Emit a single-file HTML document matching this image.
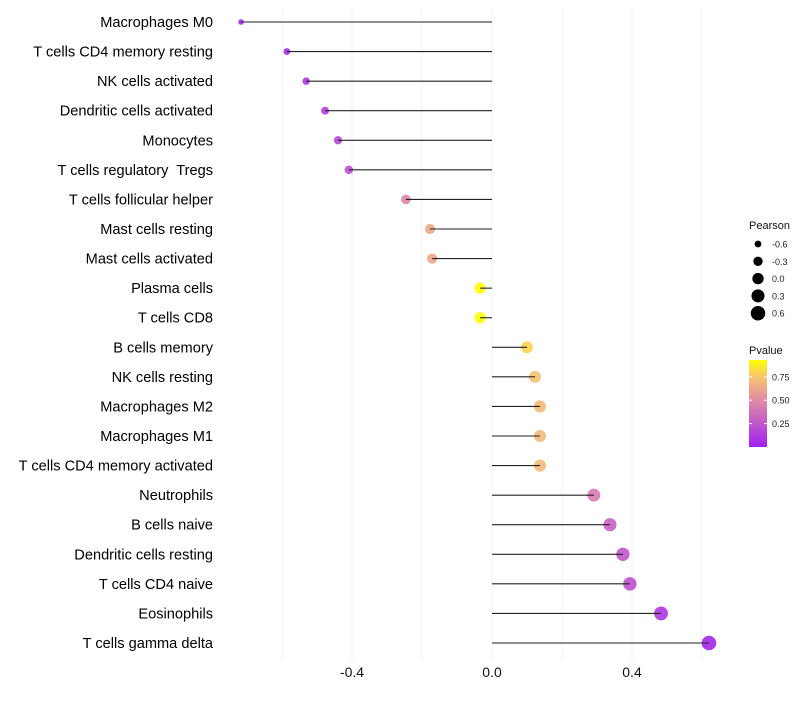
<!DOCTYPE html>
<html><head><meta charset="utf-8"><style>
body{margin:0;background:#fff;font-family:"Liberation Sans",sans-serif}
text{white-space:pre}
</style></head><body>
<svg id="c" width="800" height="700" xmlns="http://www.w3.org/2000/svg"></svg>
<script>
const categories=["Macrophages M0","T cells CD4 memory resting","NK cells activated","Dendritic cells activated","Monocytes","T cells regulatory  Tregs","T cells follicular helper","Mast cells resting","Mast cells activated","Plasma cells","T cells CD8","B cells memory","NK cells resting","Macrophages M2","Macrophages M1","T cells CD4 memory activated","Neutrophils","B cells naive","Dendritic cells resting","T cells CD4 naive","Eosinophils","T cells gamma delta"];
const pearson=[-0.717,-0.586,-0.531,-0.477,-0.44,-0.409,-0.246,-0.177,-0.171,-0.034,-0.034,0.1,0.123,0.137,0.137,0.137,0.291,0.337,0.374,0.394,0.483,0.62];
const pvalue=[0.03,0.06,0.1,0.14,0.18,0.22,0.47,0.62,0.62,0.93,0.93,0.8,0.74,0.7,0.7,0.7,0.42,0.3,0.25,0.22,0.1,0.03];
const xTicks=[-0.4,0,0.4];
const xTickLabels=["-0.4","0.0","0.4"];
const xMinor=[-0.6,-0.2,0.2,0.6];
const sizeLegend=[-0.6,-0.3,0.0,0.3,0.6];
const sizeLegendLabels=["-0.6","-0.3","0.0","0.3","0.6"];
const colorLegend=[0.25,0.5,0.75];
const colorLegendLabels=["0.25","0.50","0.75"];

const NS="http://www.w3.org/2000/svg";
const svg=document.getElementById('c');
function mk(t,a,p){const e=document.createElementNS(NS,t);for(const k in a)e.setAttribute(k,a[k]);(p||svg).appendChild(e);return e;}
const X=v=>492+v*350;
const Y=i=>22+i*(621/21);
const R=v=>Math.sqrt(Math.max(3,32+34*v));
const stops=[[0,[160,32,240]],[0.5,[224,140,165]],[0.75,[246,196,112]],[0.93,[255,255,0]]];
function col(p){for(let i=0;i<stops.length-1;i++){const a=stops[i],b=stops[i+1];if(p<=b[0]||i==stops.length-2){const t=Math.min(1,Math.max(0,(p-a[0])/(b[0]-a[0])));return 'rgb('+a[1].map((c,j)=>Math.round(c+(b[1][j]-c)*t)).join(',')+')';}}}
[...xMinor,...xTicks].forEach(v=>{const g=mk('line',{x1:X(v),x2:X(v),y1:8,y2:660,stroke:'#f0f0f0','stroke-width':1});

});
xTicks.forEach((v,i)=>{const t=mk('text',{x:X(v),y:677,'text-anchor':'middle','font-size':14,fill:'#111'});t.textContent=xTickLabels[i];

});
categories.forEach((c,i)=>{
const y=Y(i),x=X(pearson[i]);
const t=mk('text',{x:213,y:y+5,'text-anchor':'end','font-size':14.6,fill:'#000'});t.textContent=c;


const ci=mk('circle',{cx:x,cy:y,r:R(pearson[i]),fill:col(pvalue[i]),'fill-opacity':0.9});


const l=mk('line',{x1:X(0),x2:x,y1:y,y2:y,stroke:'#222','stroke-width':1.1});


});
let t=mk('text',{x:749,y:229,'font-size':11,fill:'#111'});t.textContent='Pearson';


sizeLegend.forEach((v,i)=>{const y=244+i*17.3;
const c=mk('circle',{cx:758,cy:y,r:R(v),fill:'#000'});


const tt=mk('text',{x:772,y:y+3.5,'font-size':9,fill:'#222'});tt.textContent=sizeLegendLabels[i];

});
t=mk('text',{x:749,y:354,'font-size':11,fill:'#111'});t.textContent='Pvalue';


const defs=mk('defs',{});const lg=mk('linearGradient',{id:'g',x1:0,y1:1,x2:0,y2:0},defs);
stops.forEach(s=>mk('stop',{offset:(s[0]/0.93),'stop-color':col(s[0])},lg));
const cb=mk('rect',{x:749,y:360,width:18,height:87,fill:'url(#g)'});


const CY=p=>447-p*(87/0.93);
colorLegend.forEach((v,i)=>{mk('line',{x1:749,x2:752,y1:CY(v),y2:CY(v),stroke:'#fff'});mk('line',{x1:764,x2:767,y1:CY(v),y2:CY(v),stroke:'#fff'});
const tt=mk('text',{x:772,y:CY(v)+3.5,'font-size':9,fill:'#222'});tt.textContent=colorLegendLabels[i];

});
</script>
</body></html>
